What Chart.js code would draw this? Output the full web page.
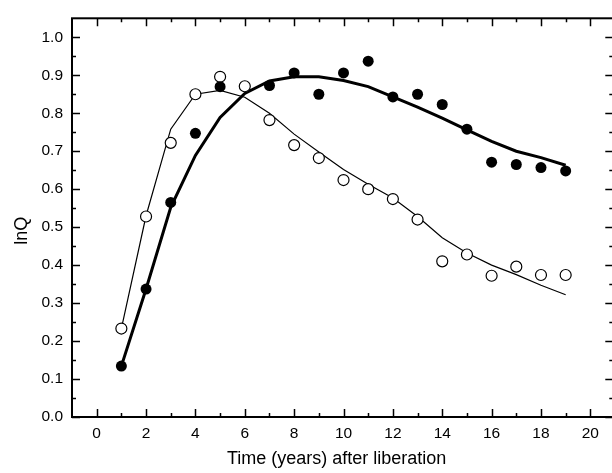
<!DOCTYPE html>
<html>
<head>
<meta charset="utf-8">
<script src="https://cdn.jsdelivr.net/npm/chart.js@4.4.1/dist/chart.umd.min.js"></script>
<style>
  html, body { margin: 0; padding: 0; background: #fff; overflow: hidden; }
  #wrap { width: 620px; height: 473px; }
</style>
</head>
<body>
<div id="wrap"><canvas id="chart"></canvas></div>
<script>
// measured points, open circles (every year 1..19)
var openYears = [1, 2, 3, 4, 5, 6, 7, 8, 9, 10, 11, 12, 13, 14, 15, 16, 17, 18, 19];
var openValues = [0.233, 0.528, 0.722, 0.850, 0.896, 0.871, 0.782, 0.716, 0.682, 0.624,
                  0.600, 0.574, 0.520, 0.410, 0.428, 0.372, 0.396, 0.374, 0.374];

// measured points, filled circles (no year 6)
var filledYears = [1, 2, 3, 4, 5, 7, 8, 9, 10, 11, 12, 13, 14, 15, 16, 17, 18, 19];
var filledValues = [0.134, 0.337, 0.565, 0.747, 0.870, 0.873, 0.906, 0.850, 0.906,
                    0.937, 0.843, 0.850, 0.823, 0.758, 0.671, 0.665, 0.657, 0.648];

// fitted curves
var fitYears = [1, 2, 3, 4, 5, 6, 7, 8, 9, 10, 11, 12, 13, 14, 15, 16, 17, 18, 19];
var thinFit = [0.233, 0.530, 0.758, 0.850, 0.860, 0.842, 0.800, 0.745, 0.698, 0.652,
               0.613, 0.577, 0.528, 0.472, 0.432, 0.400, 0.375, 0.347, 0.322];
var thickFit = [0.134, 0.337, 0.552, 0.689, 0.789, 0.852, 0.885, 0.896, 0.896, 0.886,
                0.870, 0.843, 0.816, 0.787, 0.756, 0.726, 0.700, 0.683, 0.663];

var xTicks = [0, 2, 4, 6, 8, 10, 12, 14, 16, 18, 20];
var yTicks = [0.0, 0.1, 0.2, 0.3, 0.4, 0.5, 0.6, 0.7, 0.8, 0.9, 1.0];
var xTitle = 'Time (years) after liberation';
var yTitle = 'lnQ';

function pairs(xs, ys) {
    var out = [];
    for (var i = 0; i < xs.length; i++) {
        out.push({x: xs[i], y: ys[i]});
    }
    return out;
}

// inward ticks on all four sides plus the box, Origin style
var framePlugin = {
    id: 'frame',
    afterDatasetsDraw: function(chart) {
        var ctx = chart.ctx;
        var a = chart.chartArea;
        var xs = chart.scales.x, ys = chart.scales.y;
        ctx.save();
        ctx.strokeStyle = '#000';
        ctx.lineWidth = 1.5;
        ctx.beginPath();
        for (var v = 0; v <= 20; v++) {
            var px = Math.round(xs.getPixelForValue(v)) + 0.5;
            var len = (v % 2 === 0) ? 8 : 4;
            ctx.moveTo(px, a.bottom); ctx.lineTo(px, a.bottom - len);
            ctx.moveTo(px, a.top); ctx.lineTo(px, a.top + len);
        }
        for (var k = 0; k <= 20; k++) {
            var py = Math.round(ys.getPixelForValue(k * 0.05)) + 0.5;
            var l2 = (k % 2 === 0) ? 8 : 4;
            ctx.moveTo(a.left, py); ctx.lineTo(a.left + l2, py);
            ctx.moveTo(a.right, py); ctx.lineTo(a.right - l2, py);
        }
        ctx.stroke();
        ctx.lineWidth = 2;
        ctx.strokeRect(a.left, a.top, a.right - a.left, a.bottom - a.top);

        ctx.fillStyle = '#000';
        ctx.font = '18px "Liberation Sans", Arial, sans-serif';
        ctx.textAlign = 'center';
        ctx.textBaseline = 'alphabetic';
        ctx.fillText(xTitle, (a.left + a.right) / 2 - 6, a.bottom + 47);
        ctx.translate(a.left - 50, (a.top + a.bottom) / 2 + 13);
        ctx.rotate(-Math.PI / 2);
        ctx.textBaseline = 'middle';
        ctx.fillText(yTitle, 0, 0);
        ctx.restore();
    }
};

var ctx = document.getElementById('chart').getContext('2d');
new Chart(ctx, {
    type: 'scatter',
    data: {
        datasets: [{
            label: 'filled',
            data: pairs(filledYears, filledValues),
            showLine: false,
            pointRadius: 5.5,
            pointBackgroundColor: '#000',
            pointBorderColor: '#000',
            pointBorderWidth: 0
        }, {
            label: 'open',
            data: pairs(openYears, openValues),
            showLine: false,
            pointRadius: 5.5,
            pointBackgroundColor: '#fff',
            pointBorderColor: '#000',
            pointBorderWidth: 1.2
        }, {
            label: 'thick fit',
            data: pairs(fitYears, thickFit),
            showLine: true,
            tension: 0,
            borderColor: '#000',
            borderWidth: 3,
            pointRadius: 0
        }, {
            label: 'thin fit',
            data: pairs(fitYears, thinFit),
            showLine: true,
            tension: 0,
            borderColor: '#000',
            borderWidth: 1.2,
            pointRadius: 0
        }]
    },
    options: {
        responsive: true,
        maintainAspectRatio: false,
        devicePixelRatio: 1,
        animation: false,
        layout: { padding: { left: 0, top: 14, right: 3, bottom: 0 } },
        plugins: {
            legend: { display: false },
            tooltip: { enabled: false }
        },
        scales: {
            x: {
                type: 'linear',
                min: -1,
                max: 20.93,
                grid: { display: false, drawTicks: false },
                border: { display: false },
                afterBuildTicks: function(scale) {
                    scale.ticks = xTicks.map(function(v) { return {value: v}; });
                },
                afterFit: function(scale) { scale.height = 56; },
                ticks: {
                    padding: 7,
                    color: '#000',
                    font: { family: '"Liberation Sans", Arial, sans-serif', size: 15.5 },
                    maxRotation: 0,
                    callback: function(v) { return String(v); }
                }
            },
            y: {
                type: 'linear',
                min: 0,
                max: 1.05,
                grid: { display: false, drawTicks: false },
                border: { display: false },
                afterBuildTicks: function(scale) {
                    scale.ticks = yTicks.map(function(v) { return {value: v}; });
                },
                afterFit: function(scale) { scale.width = 72; },
                ticks: {
                    padding: 9,
                    color: '#000',
                    font: { family: '"Liberation Sans", Arial, sans-serif', size: 15.5 },
                    callback: function(v) { return v.toFixed(1); }
                }
            }
        }
    },
    plugins: [framePlugin]
});
</script>
</body>
</html>
